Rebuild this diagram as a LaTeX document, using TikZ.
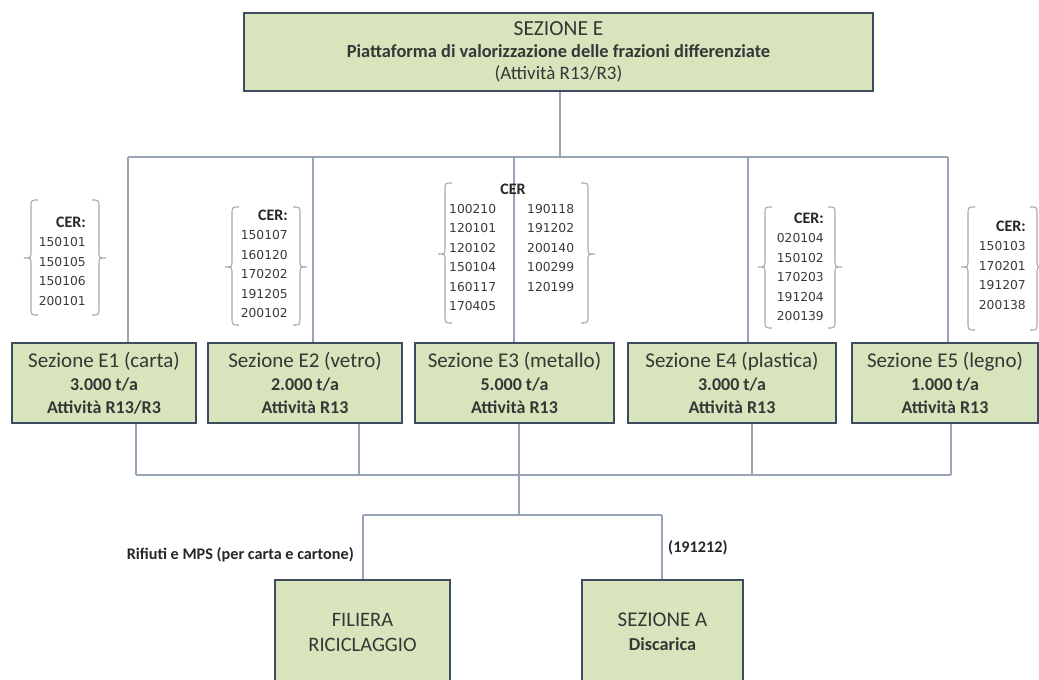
\documentclass[tikz,border=0pt]{standalone}
\usepackage{fontspec}
\setmainfont{Carlito}
\newfontfamily\numfont{DejaVu Sans}

\definecolor{boxfill}{HTML}{D8E4BC}
\definecolor{boxline}{HTML}{3F4B5E}
\definecolor{boxtext}{HTML}{363636}
\definecolor{connline}{HTML}{97A4B6}
\definecolor{bracegray}{HTML}{A8A8A8}
\definecolor{numtext}{HTML}{3A3A3A}

% curly brackets around the CER code lists: x, top, middle, bottom
\newcommand\brL[4]{%
  \draw[bracestyle] ({#1+7},#2) .. controls (#1,#2) .. (#1,{#2+8}) -- (#1,{#3-7})
    .. controls (#1,#3) .. ({#1-7},#3) .. controls (#1,#3) .. (#1,{#3+7})
    -- (#1,{#4-8}) .. controls (#1,#4) .. ({#1+7},#4);}
\newcommand\brR[4]{%
  \draw[bracestyle] ({#1-7},#2) .. controls (#1,#2) .. (#1,{#2+8}) -- (#1,{#3-7})
    .. controls (#1,#3) .. ({#1+7},#3) .. controls (#1,#3) .. (#1,{#3+7})
    -- (#1,{#4-8}) .. controls (#1,#4) .. ({#1-7},#4);}

\newcommand\secname[1]{{\fontsize{21}{23}\selectfont #1}}
\newcommand\secbold[1]{{\bfseries\fontsize{18}{23}\selectfont #1}}
\newcommand\cerfont{\rmfamily\bfseries\fontsize{16}{19.5}\selectfont\color{black!85}}

\begin{document}
\begin{tikzpicture}[x=1pt,y=-1pt,
  box/.style={draw=boxline, line width=2.6pt, fill=boxfill, text=boxtext,
    align=center, inner sep=0pt},
  ebox/.style={box, minimum height=80pt, font=\fontsize{18}{23}\selectfont},
  conn/.style={draw=connline, line width=1.4pt},
  bracestyle/.style={draw=bracegray, line width=1.1pt},
  cer/.style={text=numtext, align=right, inner sep=0pt,
    font=\numfont\fontsize{12.3}{19.5}\selectfont},
  flowlabel/.style={text=black!85, inner sep=0pt,
    font=\bfseries\fontsize{16.2}{18}\selectfont}]

\useasboundingbox (0,0) rectangle (1039,680);

% ---------- junction points of the connector tree ----------
\coordinate (topdrop) at (560,157);
\coordinate (b1) at (128,157);
\coordinate (b2) at (313,157);
\coordinate (b3) at (514,157);
\coordinate (b4) at (748,157);
\coordinate (b5) at (948,157);
\coordinate (c1) at (136,475);
\coordinate (c2) at (359,475);
\coordinate (c3) at (519,475);
\coordinate (c4) at (752,475);
\coordinate (c5) at (951,475);
\coordinate (d0) at (519,515);
\coordinate (d1) at (363,515);
\coordinate (d2) at (662,515);

% ---------- main section ----------
\node[box, minimum width=629pt, minimum height=78pt,
      font=\fontsize{18}{22}\selectfont] (sez) at (558.5,52)
  {{\fontsize{21.5}{22}\selectfont SEZIONE E}\\
   {\bfseries\fontsize{18.4}{22}\selectfont Piattaforma di valorizzazione delle frazioni differenziate}\\
   {\fontsize{19}{22}\selectfont (Attività R13/R3)}};

% ---------- sub-sections ----------
\node[ebox, minimum width=184pt] (e1) at (104,383)
  {\secname{Sezione E1 (carta)}\\ \secbold{3.000 t/a}\\ \secbold{Attività R13/R3}};
\node[ebox, minimum width=194pt] (e2) at (305,383)
  {\secname{Sezione E2 (vetro)}\\ \secbold{2.000 t/a}\\ \secbold{Attività R13}};
\node[ebox, minimum width=199pt] (e3) at (514.5,383)
  {\secname{Sezione E3 (metallo)}\\ \secbold{5.000 t/a}\\ \secbold{Attività R13}};
\node[ebox, minimum width=208pt] (e4) at (732,383)
  {\secname{Sezione E4 (plastica)}\\ \secbold{3.000 t/a}\\ \secbold{Attività R13}};
\node[ebox, minimum width=186pt] (e5) at (945,383)
  {\secname{Sezione E5 (legno)}\\ \secbold{1.000 t/a}\\ \secbold{Attività R13}};

% ---------- destinations (running off the lower edge) ----------
\begin{scope}
  \clip (0,0) rectangle (1039,680);
  \node[box, minimum width=175pt, minimum height=104pt,
        font=\fontsize{20.5}{25}\selectfont] (fil) at (362.5,632)
    {FILIERA\\ RICICLAGGIO};
  \node[box, minimum width=161pt, minimum height=104pt,
        font=\fontsize{21}{24}\selectfont] (seza) at (662.5,632)
    {SEZIONE A\\ {\bfseries\fontsize{18.2}{24}\selectfont Discarica}};
\end{scope}

% ---------- connectors ----------
\draw[conn] (sez.south -| topdrop) -- (topdrop);
\draw[conn] (b1) -- (b5);
\draw[conn] (b1) -- (b1 |- e1.north);
\draw[conn] (b2) -- (b2 |- e2.north);
\draw[conn] (b3) -- (b3 |- e3.north);
\draw[conn] (b4) -- (b4 |- e4.north);
\draw[conn] (b5) -- (b5 |- e5.north);

\draw[conn] (e1.south -| c1) -- (c1);
\draw[conn] (e2.south -| c2) -- (c2);
\draw[conn] (e3.south -| c3) -- (c3);
\draw[conn] (e4.south -| c4) -- (c4);
\draw[conn] (e5.south -| c5) -- (c5);
\draw[conn] (c1) -- (c5);
\draw[conn] (c3) -- (d0);
\draw[conn] (d1) -- (d2);
\draw[conn] (d1) -- (d1 |- fil.north);
\draw[conn] (d2) -- (d2 |- seza.north);

% ---------- flow labels ----------
\node[flowlabel, anchor=east] (lbfil) at (354,555) {Rifiuti e MPS (per carta e cartone)};
\node[flowlabel, anchor=west] (lbsea) at (668,548) {(191212)};

% ---------- CER code lists ----------
\node[cer, anchor=east] (cer1) at (86,261)
  {{\cerfont CER:}\\150101\\150105\\150106\\200101};
\node[cer, anchor=east] (cer2) at (288,264)
  {{\cerfont CER:}\\150107\\160120\\170202\\191205\\200102};
\node[cer, anchor=east] (cer4) at (824,267)
  {{\cerfont CER:}\\020104\\150102\\170203\\191204\\200139};
\node[cer, anchor=east] (cer5) at (1026,265)
  {{\cerfont CER:}\\150103\\170201\\191207\\200138};
\node[cer] (cer3) at (513,189) {\cerfont CER};
\node[cer, anchor=north west, align=left] (cer3a) at (449,204)
  {100210\\120101\\120102\\150104\\160117\\170405};
\node[cer, anchor=north west, align=left] (cer3b) at (527,204)
  {190118\\191202\\200140\\100299\\120199};

\brL{31}{200}{258}{315}  \brR{99}{200}{258}{315}
\brL{232}{207}{267}{325} \brR{300}{207}{267}{325}
\brL{445}{183}{254}{323} \brR{588}{183}{254}{323}
\brL{765}{207}{267}{328} \brR{835}{207}{267}{328}
\brL{968}{207}{267}{330} \brR{1037}{207}{267}{330}

\end{tikzpicture}
\end{document}
